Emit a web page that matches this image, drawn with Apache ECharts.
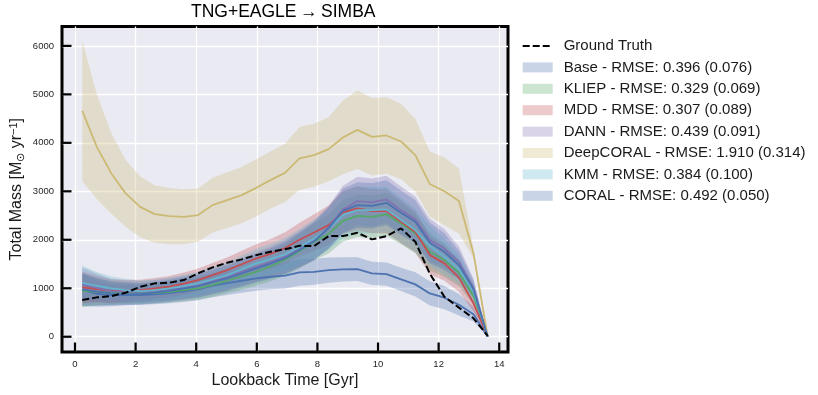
<!DOCTYPE html>
<html>
<head>
<meta charset="utf-8">
<script src="https://cdn.jsdelivr.net/npm/echarts@6/dist/echarts.min.js"></script>
<style>
html,body{margin:0;padding:0;background:#fff;}
#chart{width:818px;height:395px;}
</style>
</head>
<body>
<div id="chart"></div>
<script>
// ---- data ----
const xVals = [0.24, 0.72, 1.20, 1.67, 2.15, 2.63, 3.11, 3.59, 4.06, 4.54, 5.02, 5.50, 5.98, 6.45, 6.93, 7.41, 7.89, 8.37, 8.84, 9.32, 9.80, 10.28, 10.76, 11.23, 11.71, 12.19, 12.67, 13.15, 13.62];
const xTicks = [0, 2, 4, 6, 8, 10, 12, 14];
const yTicks = [0, 1000, 2000, 3000, 4000, 5000, 6000];

const groundTruth = [757, 812, 839, 907, 1031, 1101, 1113, 1169, 1307, 1431, 1526, 1596, 1684, 1753, 1805, 1876, 1870, 2076, 2076, 2144, 2008, 2076, 2235, 1959, 1300, 825, 600, 380, 20];

const baseMean = [962, 887, 860, 860, 860, 875, 900, 935, 983, 1052, 1107, 1155, 1203, 1237, 1260, 1327, 1340, 1375, 1389, 1395, 1307, 1293, 1183, 1080, 894, 805, 660, 465, 0];
const baseSd   = [330, 270, 230, 210, 200, 205, 210, 220, 230, 240, 245, 250, 255, 260, 265, 275, 270, 260, 250, 245, 240, 240, 240, 250, 250, 240, 220, 150, 0];

const kliepMean = [948, 925, 907, 900, 894, 905, 928, 960, 997, 1070, 1155, 1245, 1340, 1450, 1590, 1770, 1959, 2118, 2392, 2495, 2474, 2524, 2337, 2131, 1753, 1581, 1320, 840, 0];
const kliepSd   = [340, 280, 245, 225, 215, 215, 220, 225, 235, 245, 260, 275, 290, 305, 325, 355, 380, 400, 430, 440, 440, 440, 430, 410, 390, 350, 280, 170, 0];

const mddMean = [1018, 985, 948, 950, 962, 995, 1031, 1095, 1169, 1270, 1375, 1495, 1616, 1710, 1830, 2000, 2150, 2303, 2565, 2647, 2592, 2592, 2371, 2165, 1684, 1513, 1220, 690, 0];
const mddSd   = [330, 275, 240, 225, 215, 215, 220, 228, 238, 250, 262, 278, 292, 305, 325, 350, 375, 405, 440, 455, 455, 455, 445, 425, 400, 360, 290, 170, 0];

const dannMean = [1080, 1010, 941, 930, 928, 950, 976, 1020, 1066, 1150, 1237, 1340, 1443, 1540, 1650, 1810, 1990, 2260, 2626, 2798, 2771, 2833, 2612, 2421, 1994, 1821, 1550, 1010, 0];
const dannSd   = [350, 290, 250, 232, 222, 222, 228, 235, 245, 258, 272, 288, 305, 322, 345, 375, 405, 440, 490, 500, 495, 490, 485, 470, 440, 400, 310, 190, 0];

const deepcoralMean = [4660, 3918, 3369, 2957, 2680, 2530, 2489, 2474, 2509, 2715, 2819, 2922, 3072, 3231, 3380, 3678, 3746, 3870, 4111, 4268, 4124, 4152, 4028, 3746, 3150, 3000, 2798, 1719, 0];
const deepcoralSd   = [1450, 1080, 830, 690, 630, 590, 580, 567, 550, 565, 575, 580, 590, 590, 600, 650, 650, 660, 760, 810, 800, 790, 780, 750, 670, 700, 674, 100, 0];

const kmmMean = [1113, 1050, 997, 960, 941, 960, 997, 1045, 1101, 1185, 1272, 1390, 1513, 1600, 1700, 1850, 2020, 2230, 2509, 2612, 2612, 2626, 2406, 2200, 1870, 1650, 1390, 930, 0];
const kmmSd   = [350, 285, 248, 230, 220, 220, 226, 233, 243, 255, 270, 285, 300, 318, 340, 370, 400, 430, 470, 480, 475, 470, 460, 440, 415, 375, 300, 180, 0];

const coralMean = [976, 930, 894, 885, 880, 910, 948, 995, 1045, 1125, 1203, 1305, 1410, 1510, 1620, 1790, 1970, 2240, 2598, 2715, 2701, 2763, 2557, 2371, 1938, 1753, 1480, 980, 0];
const coralSd   = [340, 282, 245, 228, 218, 218, 224, 230, 240, 252, 265, 280, 295, 312, 332, 362, 392, 425, 460, 470, 468, 465, 460, 445, 420, 380, 300, 180, 0];

const modelNames = [
  'Base - RMSE: 0.396 (0.076)',
  'KLIEP - RMSE: 0.329 (0.069)',
  'MDD - RMSE: 0.307 (0.089)',
  'DANN - RMSE: 0.439 (0.091)',
  'DeepCORAL - RMSE: 1.910 (0.314)',
  'KMM - RMSE: 0.384 (0.100)',
  'CORAL - RMSE: 0.492 (0.050)'
];
const gtName = 'Ground Truth';

// ---- styling ----
const modelColors = [[76,114,176],[85,168,104],[196,78,82],[129,114,178],[204,185,116],[100,181,205],[76,114,176]];
const means = [baseMean, kliepMean, mddMean, dannMean, deepcoralMean, kmmMean, coralMean];
const sds = [baseSd, kliepSd, mddSd, dannSd, deepcoralSd, kmmSd, coralSd];
const FONT = '"Liberation Sans", Arial, sans-serif';
const X_MIN = -0.429, X_MAX = 14.289, Y_MIN = -315, Y_MAX = 6400;
const TICK_LEN = 9.5;

function rgba(c, a){ return 'rgba(' + c[0] + ',' + c[1] + ',' + c[2] + ',' + a + ')'; }

const bandSeries = modelNames.map(function(name, k){
  const mean = means[k], sd = sds[k];
  const data = xVals.map(function(x, i){ return [x, mean[i] - sd[i], mean[i] + sd[i]]; });
  const fill = rgba(modelColors[k], 0.3);
  return {
    type: 'custom',
    name: name,
    data: data,
    encode: {x: 0, y: [1, 2]},
    itemStyle: {color: fill},
    silent: true,
    z: 2,
    renderItem: function(params, api){
      if (params.dataIndex !== 0) return null;
      const pts = [];
      for (let i = 0; i < data.length; i++) pts.push(api.coord([data[i][0], data[i][1]]));
      for (let i = data.length - 1; i >= 0; i--) pts.push(api.coord([data[i][0], data[i][2]]));
      return {type: 'polygon', shape: {points: pts}, style: {fill: fill, stroke: null}};
    }
  };
});

const lineSeries = modelNames.map(function(name, k){
  return {
    type: 'line',
    name: name + ' (mean)',
    data: xVals.map(function(x, i){ return [x, means[k][i]]; }),
    symbol: 'none',
    silent: true,
    z: 3,
    lineStyle: {color: rgba(modelColors[k], 1), width: 1.8},
    itemStyle: {color: rgba(modelColors[k], 1)}
  };
});

const gtSeries = {
  type: 'line',
  name: gtName,
  data: xVals.map(function(x, i){ return [x, groundTruth[i]]; }),
  symbol: 'none',
  silent: true,
  z: 4,
  lineStyle: {color: '#000', width: 2, type: [7, 3]},
  itemStyle: {color: '#000'}
};

// inward tick marks, placed through the axes' own scales
const tickSeries = {
  type: 'custom',
  name: '__ticks',
  silent: true,
  z: 10,
  data: xTicks.map(function(v){ return [v, 0]; }).concat(yTicks.map(function(v){ return [v, 1]; })),
  encode: {x: 0},
  renderItem: function(params, api){
    const v = api.value(0), axis = api.value(1);
    let p1, p2;
    if (axis === 0) {
      p1 = api.coord([v, Y_MIN]); p2 = [p1[0], p1[1] - TICK_LEN];
    } else {
      p1 = api.coord([X_MIN, v]); p2 = [p1[0] + TICK_LEN, p1[1]];
    }
    return {type: 'line', shape: {x1: p1[0], y1: p1[1], x2: p2[0], y2: p2[1]},
      style: {stroke: '#000', lineWidth: 2.2}};
  }
};

const chart = echarts.init(document.getElementById('chart'), null, {renderer: 'canvas'});
chart.setOption({
  animation: false,
  backgroundColor: '#ffffff',
  textStyle: {fontFamily: FONT},
  grid: {
    left: 62, top: 26.5, width: 446, height: 325.5,
    show: true, backgroundColor: '#EAEAF2', borderColor: '#000', borderWidth: 3,
    containLabel: false, outerBoundsMode: 'none'
  },
  graphic: [{
    type: 'text', left: 191, top: 3, z: 10,
    style: {text: 'TNG+EAGLE\u2009\u2192\u2009SIMBA', font: '17.5px ' + FONT, fill: '#000'}
  }],
  legend: {
    orient: 'vertical', left: 521.7, top: 38, padding: 0,
    itemWidth: 30, itemHeight: 10, itemGap: 5.4,
    selectedMode: false,
    textStyle: {fontSize: 15, lineHeight: 16, color: '#1a1a1a', fontFamily: FONT, padding: [0, 0, 0, 6]},
    data: [{name: gtName, itemStyle: {opacity: 0}}].concat(modelNames.map(function(n){ return {name: n, icon: 'rect'}; }))
  },
  xAxis: {
    type: 'value', min: X_MIN, max: X_MAX,
    name: 'Lookback Time [Gyr]', nameLocation: 'middle', nameGap: 21, nameMoveOverlap: false,
    nameTextStyle: {fontSize: 16, color: '#1a1a1a', fontFamily: FONT},
    axisLine: {show: false, onZero: false},
    axisTick: {show: false, customValues: xTicks},
    axisLabel: {fontSize: 9.5, color: '#262626', margin: 7, customValues: xTicks, fontFamily: FONT,
      formatter: function(v){ return String(v); }},
    splitLine: {show: true, lineStyle: {color: '#ffffff', width: 1.3}}
  },
  yAxis: {
    type: 'value', min: Y_MIN, max: Y_MAX,
    name: 'Total Mass [M{sub|\u2299} yr{sup|\u22121}]', nameLocation: 'middle', nameGap: 36, nameRotate: 90,
    nameMoveOverlap: false,
    nameTextStyle: {fontSize: 16, color: '#1a1a1a', fontFamily: FONT,
      rich: {
        sub: {fontSize: 11, verticalAlign: 'bottom', padding: [6, 0, 0, 0], color: '#1a1a1a'},
        sup: {fontSize: 11, verticalAlign: 'top', padding: [0, 0, 7, 0], color: '#1a1a1a'}
      }},
    axisLine: {show: false, onZero: false},
    axisTick: {show: false, customValues: yTicks},
    axisLabel: {fontSize: 9.5, color: '#262626', margin: 8, customValues: yTicks, fontFamily: FONT,
      formatter: function(v){ return String(v); }},
    splitLine: {show: true, lineStyle: {color: '#ffffff', width: 1.3}}
  },
  series: bandSeries.concat(lineSeries).concat([gtSeries, tickSeries])
});
</script>
</body>
</html>
